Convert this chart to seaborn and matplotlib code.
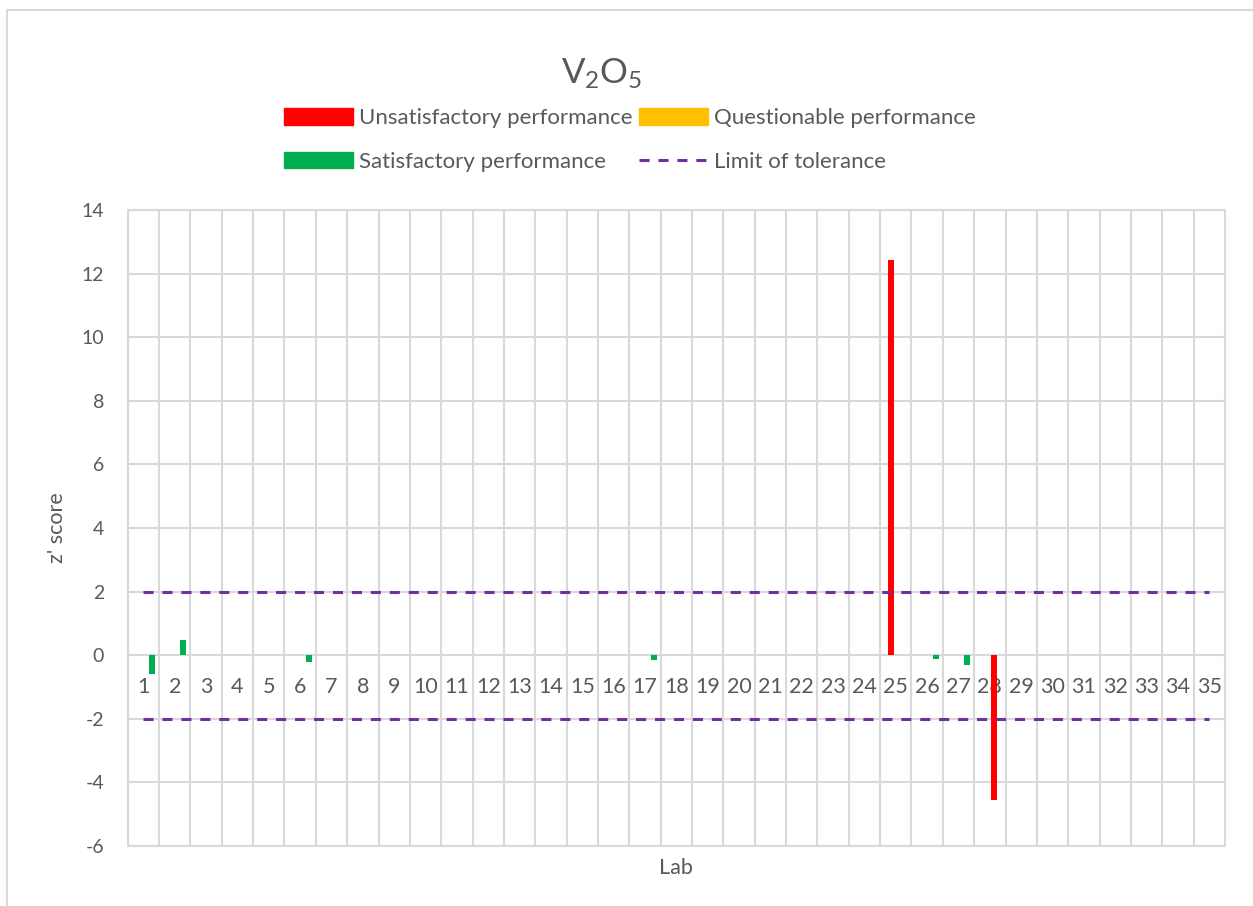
import numpy as np
import pandas as pd
import matplotlib
matplotlib.use("Agg")
import matplotlib.pyplot as plt
import seaborn as sns
from matplotlib.patches import Patch
from matplotlib.lines import Line2D

# ---------------- data ----------------
labs = [str(i) for i in range(1, 36)]
unsat_labs = ["25", "28"]
unsat_z = [12.43, -4.54]
quest_labs = []
quest_z = []
sat_labs = ["1", "2", "6", "17", "26", "27"]
sat_z = [-0.59, 0.47, -0.21, -0.16, -0.13, -0.30]
limit_upper = 2
limit_lower = -2
y_ticks = list(range(-6, 15, 2))

title = "V$_2$O$_5$"
x_label = "Lab"
y_label = "z' score"
legend_labels = ["Unsatisfactory performance", "Questionable performance",
                 "Satisfactory performance", "Limit of tolerance"]

# ---------------- style ----------------
sns.set_theme(style="white")
plt.rcParams['font.family'] = ['Lato', 'DejaVu Sans']
plt.rcParams['mathtext.fontset'] = 'custom'
plt.rcParams['mathtext.rm'] = 'Lato'
plt.rcParams['mathtext.it'] = 'Lato:italic'
plt.rcParams['mathtext.bf'] = 'Lato:bold'
plt.rcParams['mathtext.default'] = 'regular'

TXT = '#595959'
GRID = '#D9D9D9'
RED = '#FF0000'
YEL = '#FFC000'
GRN = '#00B050'
PUR = '#7030A0'

W, H = 1253, 906
L, R, T, B = 127.7, 1225, 210, 846
fig = plt.figure(figsize=(W / 100, H / 100), dpi=100)
ax = fig.add_axes([L / W, 1 - B / H, (R - L) / W, (B - T) / H])

pos = {lab: i for i, lab in enumerate(labs)}
slot = 0.139
bar_w = 0.19

# bars
ux = [pos[l] + (-slot if z >= 0 else slot) for l, z in zip(unsat_labs, unsat_z)]
ax.bar(ux, unsat_z, width=bar_w, color=RED, linewidth=0, zorder=4)
qx = [pos[l] for l in quest_labs]
ax.bar(qx, quest_z, width=bar_w, color=YEL, linewidth=0, zorder=4)
sx = [pos[l] + 2 * slot for l in sat_labs]
ax.bar(sx, sat_z, width=bar_w, color=GRN, linewidth=0, zorder=4)

# limit lines
lim_df = pd.DataFrame({
    "lab": list(range(len(labs))) * 2,
    "z": [limit_upper] * len(labs) + [limit_lower] * len(labs),
    "which": ["upper"] * len(labs) + ["lower"] * len(labs),
})
for w, sub in lim_df.groupby("which"):
    sns.lineplot(data=sub, x="lab", y="z", ax=ax, color=PUR, linewidth=2.2,
                 linestyle=(0, (3.3, 2.9)), zorder=5)

# axes
ax.set_xlim(-0.5, len(labs) - 0.5)
ax.set_ylim(min(y_ticks), max(y_ticks))
ax.set_yticks(y_ticks)
ax.set_yticklabels([str(t) for t in y_ticks])
ax.set_xticks(np.arange(-0.5, len(labs), 1))
ax.grid(True, color=GRID, linewidth=1.5, zorder=0)
ax.set_axisbelow(True)
ax.tick_params(axis='y', length=0, labelsize=14, colors=TXT, pad=17)
ax.tick_params(axis='x', length=0, labelbottom=False)
for s in ax.spines.values():
    s.set_color(GRID)
    s.set_linewidth(1.5)
ax.set_xlabel("")
ax.set_ylabel("")

for i, lab in enumerate(labs):
    ax.annotate(lab, xy=(i, 0), xytext=(0, -23), textcoords='offset points',
                ha='center', va='center', fontsize=15.5, color=TXT, zorder=3)

fig.text(57 / W, 1 - 528 / H, y_label, rotation=90, ha='center', va='center',
         fontsize=15.5, color=TXT)
fig.text(676 / W, 1 - 868 / H, x_label, ha='center', va='center',
         fontsize=15.5, color=TXT)
fig.text(602 / W, 1 - 74 / H, title, ha='center', va='center',
         fontsize=25, color=TXT)

handles = [Patch(color=RED), Patch(color=GRN), Patch(color=YEL),
           Line2D([0], [0], color=PUR, lw=2.2, linestyle=(0, (3.3, 2.9)))]
labels = [legend_labels[0], legend_labels[2], legend_labels[1], legend_labels[3]]
leg = fig.legend(handles, labels, ncol=2, loc='center',
                 bbox_to_anchor=(630 / W, 1 - 140 / H), frameon=False,
                 fontsize=16, handlelength=3.1, handleheight=0.75,
                 handletextpad=0.27, columnspacing=0.27, labelspacing=1.07,
                 borderpad=0)
for t in leg.get_texts():
    t.set_color(TXT)

fig.add_artist(Line2D([7 / W, 7 / W, 1], [0, 1 - 9.5 / H, 1 - 9.5 / H],
                      transform=fig.transFigure, color=GRID, lw=1.5))

fig.savefig("out.png", dpi=100)
